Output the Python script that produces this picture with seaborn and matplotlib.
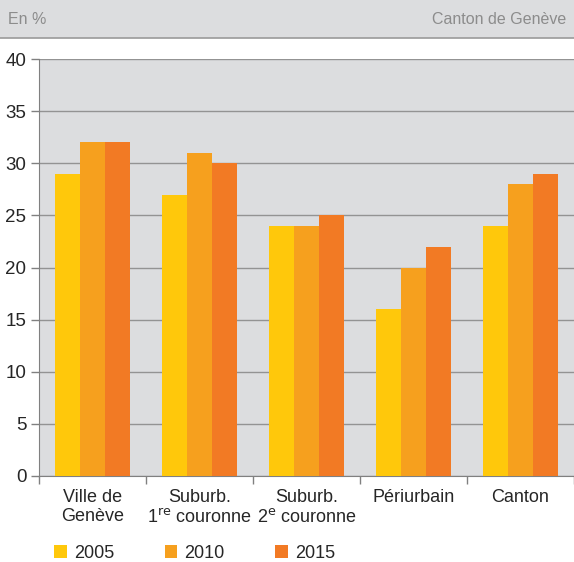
import matplotlib
matplotlib.use("Agg")
import matplotlib.pyplot as plt
import seaborn as sns
import pandas as pd
import numpy as np

sns.set_style("white")
plt.rcParams['font.family'] = ['Liberation Sans', 'DejaVu Sans']

categories = ["Ville de\nGenève", "Suburb.\n1$^{\\rm re}$ couronne", "Suburb.\n2$^{\\rm e}$ couronne",
              "Périurbain", "Canton"]
years = ["2005", "2010", "2015"]
v2005 = [29, 27, 24, 16, 24]
v2010 = [32, 31, 24, 20, 28]
v2015 = [32, 30, 25, 22, 29]
colors = ["#FFC80B", "#F6A01E", "#F27A24"]

df = pd.DataFrame({
    "cat": categories * 3,
    "year": [y for y in years for _ in categories],
    "val": v2005 + v2010 + v2015,
})

fig = plt.figure(figsize=(5.74, 5.62), dpi=100)
# header band
hdr = fig.add_axes([0, 1 - 38 / 562, 1, 38 / 562])
hdr.set_facecolor("#DCDDDF")
hdr.set_xticks([]); hdr.set_yticks([])
for s in ["top", "left", "right"]:
    hdr.spines[s].set_visible(False)
hdr.spines["bottom"].set_color("#9a9a9a")
hdr.spines["bottom"].set_linewidth(1.2)
hdr.text(8 / 574, 0.5, "En %", color="#8C8C8C", fontsize=11.5, va="center", ha="left",
         transform=hdr.transAxes)
hdr.text(1 - 8 / 574, 0.5, "Canton de Genève", color="#8C8C8C", fontsize=11.5, va="center",
         ha="right", transform=hdr.transAxes)

ax = fig.add_axes([39 / 574, 1 - 476 / 562, 535 / 574, 417 / 562])
sns.barplot(data=df, x="cat", y="val", hue="year", palette=colors, width=0.7,
            saturation=1, ax=ax, zorder=3, legend=True, linewidth=0, edgecolor="none")
ax.set_facecolor("#DCDDDF")
ax.set_ylim(0, 40)
ax.set_xlim(-0.5, 4.5)
ax.set_yticks(range(0, 41, 5))
ax.yaxis.grid(True, color="#939393", linewidth=1.0, zorder=0)
ax.set_axisbelow(True)
ax.set_xlabel("")
ax.set_ylabel("")
for s in ["top", "right"]:
    ax.spines[s].set_visible(False)
ax.spines["left"].set_color("#808080")
ax.spines["bottom"].set_color("#808080")
ax.tick_params(axis="y", length=6, width=1, color="#808080", labelsize=13.5, pad=3, direction="out", left=True)
ax.tick_params(axis="x", length=0, labelsize=13, pad=9)
ax.set_xticks(np.arange(-0.5, 4.6, 1), minor=True)
ax.tick_params(axis="x", which="minor", length=6, width=1, color="#808080", direction="out", bottom=True)

ax.legend(loc="center left", bbox_to_anchor=(54 / 574, 1 - 553 / 562), bbox_transform=fig.transFigure,
          ncol=3, frameon=False, borderpad=0, borderaxespad=0,
          fontsize=13, handlelength=0.7, handleheight=0.7, columnspacing=2.8, handletextpad=0.4)

fig.savefig("out.png", dpi=100)
